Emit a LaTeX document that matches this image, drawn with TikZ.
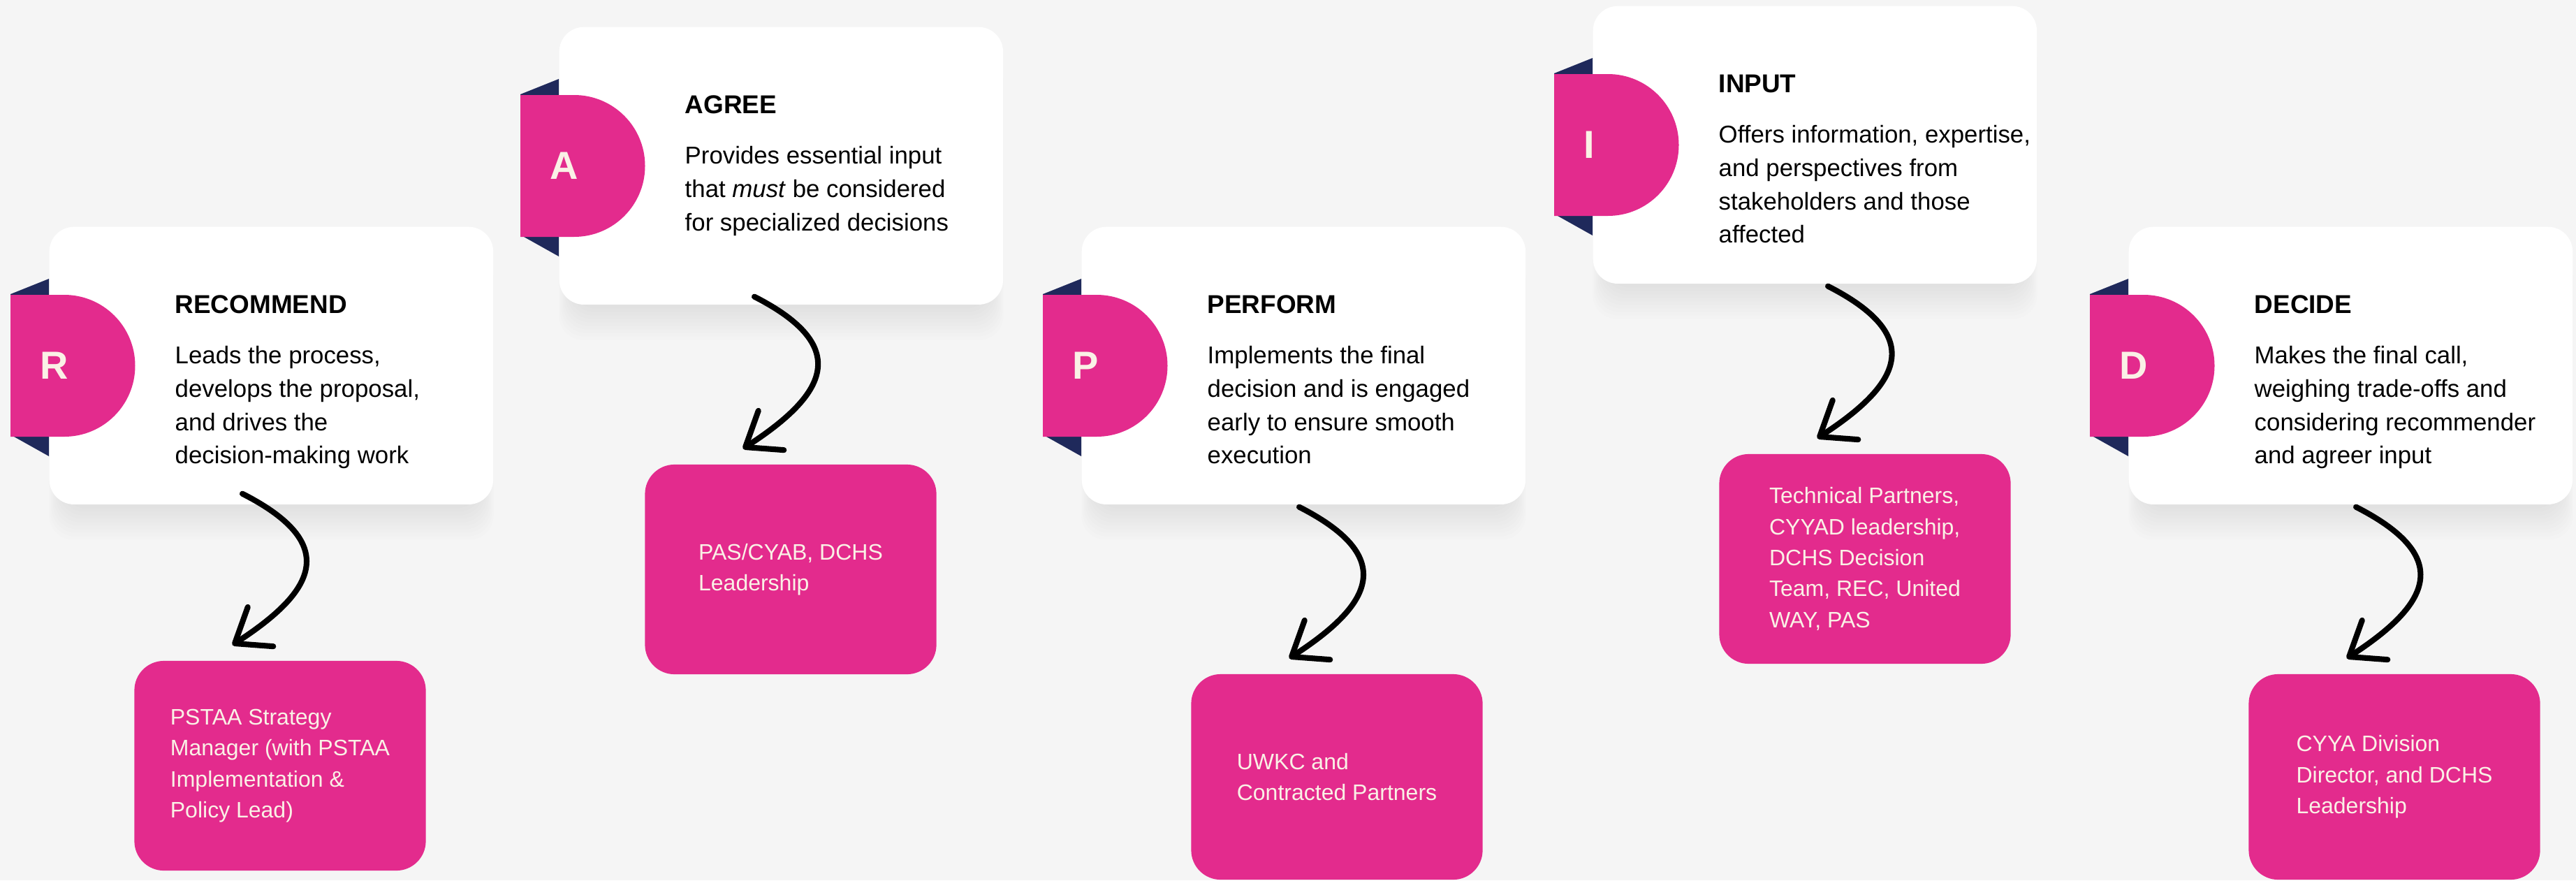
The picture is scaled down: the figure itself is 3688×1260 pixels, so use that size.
\documentclass[tikz,border=0pt]{standalone}
\usepackage{fontspec}
\setmainfont{Liberation Sans}
\usetikzlibrary{calc, arrows.meta, backgrounds}

\definecolor{raciPink}{HTML}{E32B8D}
\definecolor{raciNavy}{HTML}{1F295B}
\definecolor{raciCream}{HTML}{FAF1E6}
\definecolor{pageGray}{HTML}{F5F5F5}

\tikzset{
  card/.style={rectangle, rounded corners=10pt, fill=white, anchor=north west,
    minimum width=6.35cm, minimum height=3.97cm, inner sep=0pt},
  tabletter/.style={anchor=west, inner sep=0pt, text=raciCream,
    font=\fontsize{15.9}{16}\selectfont\bfseries},
  cardtitle/.style={anchor=base west, inner sep=0pt,
    font=\fontsize{10.5}{12}\selectfont\bfseries},
  cardbody/.style={anchor=north west, inner sep=0pt, align=left,
    font=\fontsize{9.9}{13.55}\selectfont},
  rolebox/.style={rectangle, rounded corners=12pt, fill=raciPink, text=raciCream,
    minimum width=4.17cm, minimum height=3cm, align=left, inner sep=0pt,
    font=\fontsize{9.1}{12.6}\selectfont},
  handarrow/.style={line width=2.3pt, line cap=round,
    -{Straight Barb[length=0.44cm, width=0.67cm, line cap=round, line join=round]}},
}

\begin{document}
\begin{tikzpicture}[x=0.01cm, y=-0.01cm]
  \useasboundingbox (0,0) rectangle (3688,1260);

  % the five role cards
  \node[card] (rcard) at (70,324) {};
  \node[card] (acard) at (800,38) {};
  \node[card] (pcard) at (1548,324) {};
  \node[card] (icard) at (2280,8) {};
  \node[card] (dcard) at (3047,324) {};

  % page and soft shadows under the cards
  \begin{pgfonlayer}{background}
    \fill[pageGray] (0,0) rectangle (3688,1260);
    \foreach \c in {rcard,acard,pcard,icard,dcard}
      \foreach \i in {1,...,10}
        \fill[black, opacity=0.009, rounded corners=10pt]
          ($(\c.north west)+(20-2*\i,40)$) rectangle ($(\c.south east)+(-20+2*\i,5*\i)$);
  \end{pgfonlayer}

  % letter tabs
  \foreach \c/\l in {rcard/R, acard/A, pcard/P, icard/I, dcard/D} {
    \fill[raciNavy] ($(\c.north west)+(0,75)$) -- ($(\c.north west)+(-55,97)$)
      -- ($(\c.north west)+(-50,301)$) -- ($(\c.north west)+(0,329)$) -- cycle;
    \fill[raciPink] ($(\c.north west)+(-55,98)$) -- ++(77,0)
      arc[start angle=-90, end angle=90, radius=101.5] -- ++(-77,0) -- cycle;
    \node[tabletter] (\c-letter) at ($(\c.north west)+(-13,199.5)$) {\l};
  }

  % titles and descriptions
  \node[cardtitle] (rtitle) at ($(rcard.north west)+(180,124)$) {RECOMMEND};
  \node[cardbody] (rbody) at ($(rcard.north west)+(180,171)$)
    {Leads the process,\\develops the proposal,\\and drives the\\decision-making work};

  \node[cardtitle] (atitle) at ($(acard.north west)+(180,124)$) {AGREE};
  \node[cardbody] (abody) at ($(acard.north west)+(180,171)$)
    {Provides essential input\\that \textit{must} be considered\\for specialized decisions};

  \node[cardtitle] (ptitle) at ($(pcard.north west)+(180,124)$) {PERFORM};
  \node[cardbody] (pbody) at ($(pcard.north west)+(180,171)$)
    {Implements the final\\decision and is engaged\\early to ensure smooth\\execution};

  \node[cardtitle] (ititle) at ($(icard.north west)+(180,124)$) {INPUT};
  \node[cardbody] (ibody) at ($(icard.north west)+(180,171)$)
    {Offers information, expertise,\\and perspectives from\\stakeholders and those\\affected};

  \node[cardtitle] (dtitle) at ($(dcard.north west)+(180,124)$) {DECIDE};
  \node[cardbody] (dbody) at ($(dcard.north west)+(180,171)$)
    {Makes the final call,\\weighing trade-offs and\\considering recommender\\and agreer input};

  % who holds each role
  \node[rolebox] (rbox) at (401,1096)
    {PSTAA Strategy\\Manager (with PSTAA\\Implementation \&\\Policy Lead)};
  \node[rolebox] (abox) at (1132,815) {PAS/CYAB, DCHS\\Leadership};
  \node[rolebox, minimum height=2.94cm] (pbox) at (1914,1112)
    {UWKC and\\Contracted Partners};
  \node[rolebox] (ibox) at (2670,800)
    {Technical Partners,\\CYYAD leadership,\\DCHS Decision\\Team, REC, United\\WAY, PAS};
  \node[rolebox, minimum height=2.94cm] (dbox) at (3428,1112)
    {CYYA Division\\Director, and DCHS\\Leadership};

  % curved arrows from card to box
  \coordinate (rstart) at ($(rcard.south west)+(277,-16)$);
  \coordinate (astart) at ($(acard.south west)+(280,-12)$);
  \coordinate (pstart) at ($(pcard.south west)+(312,3)$);
  \coordinate (istart) at ($(icard.south west)+(337,3)$);
  \coordinate (dstart) at ($(dcard.south west)+(326,3)$);
  \foreach \c in {r,a,p,i,d} {
    \coordinate (\c tip) at ($(\c box.north west)+(141,-22)$);
    \draw[handarrow] (\c start) .. controls +(27:160) and +(-33:140) .. (\c tip);
  }
\end{tikzpicture}
\end{document}
